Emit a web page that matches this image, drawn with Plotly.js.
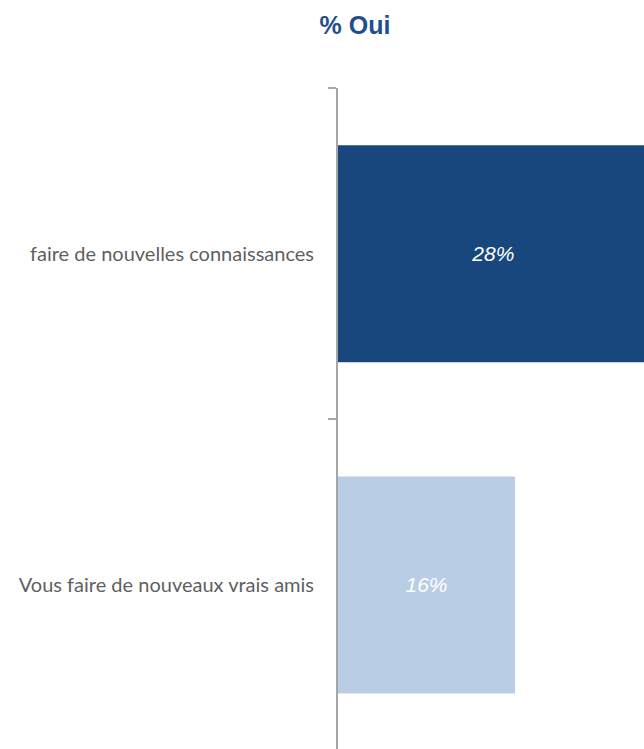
<!DOCTYPE html>
<html>
<head>
<meta charset="utf-8">
<script src="https://cdn.plot.ly/plotly-3.0.1.min.js"></script>
<style>html,body{margin:0;padding:0;background:#fff;}#chart{width:644px;height:749px;}</style>
</head>
<body>
<div id="chart"></div>
<script>
const categories = ["faire de nouvelles connaissances", "Vous faire de nouveaux vrais amis"];
const values = [28, 16];
const barColors = ["#17477D", "#B9CEE5"];
const titleText = "% Oui";

const trace = {
  type: "bar",
  orientation: "h",
  y: categories,
  x: values,
  marker: { color: barColors },
  text: values.map(v => v + "%"),
  textposition: "inside",
  insidetextanchor: "middle",
  textfont: { color: "#FFFFFF", size: 21, family: "Liberation Sans, Arial, sans-serif", style: "italic" },
  hoverinfo: "skip"
};

const layout = {
  width: 644,
  height: 749,
  margin: { l: 338, r: 0, t: 88, b: 0, pad: 0 },
  paper_bgcolor: "#FFFFFF",
  plot_bgcolor: "#FFFFFF",
  showlegend: false,
  bargap: 0.345,
  title: {
    text: "<b>" + titleText + "</b>",
    font: { family: "Liberation Sans, Arial, sans-serif", size: 25, color: "#1F4E8C" },
    x: 355 / 644, xref: "container", xanchor: "center",
    y: 1 - 25 / 749, yref: "container", yanchor: "middle"
  },
  xaxis: {
    range: [0, 306 / 11.0625],
    showgrid: false, zeroline: false, showline: false, showticklabels: false, ticks: ""
  },
  yaxis: {
    type: "category",
    categoryorder: "array",
    categoryarray: categories,
    range: [1.495, -0.5],
    showgrid: false, zeroline: false,
    showline: true, linecolor: "#A6A6A6", linewidth: 2,
    ticks: "outside", tickson: "boundaries", ticklen: 8, tickcolor: "#A6A6A6", tickwidth: 2,
    ticklabelstandoff: 18,
    tickfont: { family: "Lato, 'Noto Sans', sans-serif", size: 20, color: "#5F5F5F" }
  }
};

Plotly.newPlot("chart", [trace], layout, { displayModeBar: false, staticPlot: true });
</script>
</body>
</html>
